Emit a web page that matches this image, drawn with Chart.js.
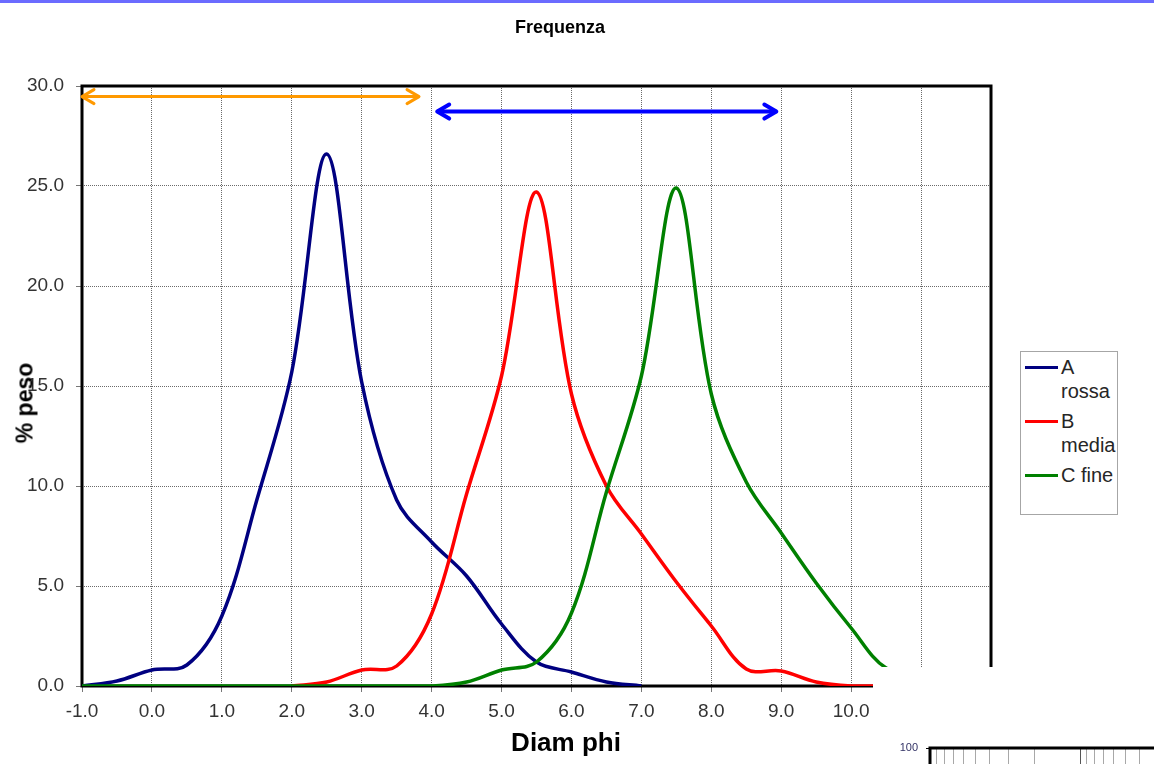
<!DOCTYPE html>
<html>
<head>
<meta charset="utf-8">
<script src="https://cdn.jsdelivr.net/npm/chart.js@4.4.0/dist/chart.umd.min.js"></script>
<style>
html,body{margin:0;padding:0;background:#fff;}
#wrap{position:relative;width:1154px;height:764px;overflow:hidden;font-family:"Liberation Sans",Arial,sans-serif;color:#000;}
#topbar{position:absolute;left:0;top:0;width:1154px;height:3px;background:#6b6bff;}
canvas{position:absolute;left:0;top:0;}
#title{position:absolute;left:560px;top:18px;transform:translateX(-50%);font-weight:bold;font-size:18px;line-height:18px;white-space:nowrap;}
#ytitle{position:absolute;left:25px;top:403px;transform:translate(-50%,-50%) rotate(-90deg);font-weight:bold;font-size:23px;line-height:23px;white-space:nowrap;}
#xtitle{position:absolute;left:566px;top:729px;transform:translateX(-50%);font-weight:bold;font-size:26px;line-height:26px;white-space:nowrap;}
#mask{position:absolute;left:873px;top:667px;width:281px;height:97px;background:#fff;}
#frag{position:absolute;left:880px;top:730px;width:680px;height:400px;}
#legend{position:absolute;left:1020px;top:351px;width:98px;height:164px;box-sizing:border-box;border:1px solid #a6a6a6;background:#fff;padding-top:4px;}
.entry{position:relative;margin-bottom:7px;}
.mark{position:absolute;left:4px;top:10px;width:33px;height:3px;}
.txt{margin-left:40px;width:56px;font-size:20px;line-height:23.5px;color:#262626;}
</style>
</head>
<body>
<div id="wrap">
  <div id="topbar"></div>
  <canvas id="main" width="1154" height="764"></canvas>
  <div id="mask"></div>
  <div id="frag"><canvas id="frag2" width="680" height="400"></canvas></div>
  <div id="title">Frequenza</div>
  <div id="ytitle">% peso</div>
  <div id="xtitle">Diam phi</div>
  <div id="legend"></div>
</div>
<script>
// ---- data ----
const phi = [-1,-0.5,0,0.5,1,1.5,2,2.5,3,3.5,4,4.5,5,5.5,6,6.5,7,7.5,8,8.5,9,9.5,10,10.5,11,11.5,12];
const serieA = [0,0.25,0.8,1.05,3.5,9.3,15.7,26.6,15.2,9.3,7.2,5.5,3.1,1.2,0.7,0.2,0,null,null,null,null,null,null,null,null,null,null];
const serieB = [null,null,null,null,null,null,0,0.2,0.8,1.0,3.6,9.6,15.5,24.7,14.6,10.0,7.6,5.2,3.0,0.85,0.75,0.2,0,0,0,0,0];
const serieC = [0,0,0,0,0,0,0,0,0,0,0,0.2,0.8,1.2,3.65,9.7,15.5,24.9,14.6,10.2,7.65,5.15,2.9,0.9,0.75,0.2,0];
const seriesNames = ['A rossa','B media','C fine'];
const seriesColors = ['#000080','#ff0000','#008000'];
const arrowOrangeX = [-1, 3.82];
const arrowOrangeY = [29.47, 29.47];
const arrowBlueX = [4.08, 8.93];
const arrowBlueY = [28.72, 28.72];
const xMin = -1, xMax = 12, xStep = 1;
const yMin = 0, yMax = 30, yStep = 5;
// fragment of the chart below (partially visible)
const fragYMax = 100;
const fragXGrid = [10,9,8,7,6,5,4,3,2,1,0.9,0.8,0.7,0.6,0.5,0.4,0.3,0.2,0.1,0.09,0.08,0.07,0.06,0.05,0.04,0.03,0.02,0.01,0.009,0.008,0.007,0.006,0.005,0.004,0.003,0.002,0.001];

// ---- legend ----
const leg = document.getElementById('legend');
seriesNames.forEach((n,i)=>{
  const e = document.createElement('div'); e.className='entry';
  const m = document.createElement('div'); m.className='mark'; m.style.background=seriesColors[i];
  const t = document.createElement('div'); t.className='txt'; t.textContent=n;
  e.appendChild(m); e.appendChild(t); leg.appendChild(e);
});

const FONT = '"Liberation Sans", Arial, sans-serif';

const framePlugin = {
  id:'frame',
  beforeDatasetsDraw(chart){
    const {ctx, chartArea:a} = chart;
    ctx.save();
    ctx.strokeStyle='#000'; ctx.lineWidth=3;
    ctx.strokeRect(a.left, a.top, a.right-a.left, a.bottom-a.top);
    ctx.restore();
  }
};
const arrowPlugin = {
  id:'arrows',
  afterDatasetsDraw(chart){
    const ctx = chart.ctx;
    chart.data.datasets.forEach((ds,i)=>{
      if(!ds.arrowHeads) return;
      const pts = chart.getDatasetMeta(i).data;
      const p0 = pts[0], p1 = pts[pts.length-1];
      ctx.save();
      ctx.strokeStyle = ds.borderColor; ctx.lineWidth = ds.borderWidth;
      ctx.lineJoin='round'; ctx.lineCap='round';
      const L=12, H=7;
      [[p1.x,p1.y,-1],[p0.x,p0.y,1]].forEach(([x,y,d])=>{
        ctx.beginPath(); ctx.moveTo(x+d*L,y-H); ctx.lineTo(x,y); ctx.lineTo(x+d*L,y+H); ctx.stroke();
      });
      ctx.restore();
    });
  }
};

function series(arr){ return phi.map((x,i)=>({x:x, y:arr[i]})); }
function pairs(xs, ys){ return xs.map((x,i)=>({x:x, y:ys[i]})); }

const curveBase = {pointRadius:0, borderWidth:3.5, tension:0.35, fill:false, spanGaps:false};
new Chart(document.getElementById('main'), {
  type:'line',
  data:{datasets:[
    Object.assign({label:seriesNames[0], data:series(serieA), borderColor:seriesColors[0], order:3}, curveBase),
    Object.assign({label:seriesNames[1], data:series(serieB), borderColor:seriesColors[1], order:2}, curveBase),
    Object.assign({label:seriesNames[2], data:series(serieC), borderColor:seriesColors[2], order:1}, curveBase),
    {label:'arrow1', data:pairs(arrowOrangeX, arrowOrangeY), borderColor:'#ff9900', borderWidth:3, pointRadius:0, tension:0, arrowHeads:true, order:0, clip:false},
    {label:'arrow2', data:pairs(arrowBlueX, arrowBlueY), borderColor:'#0000ff', borderWidth:4, pointRadius:0, tension:0, arrowHeads:true, order:0, clip:false}
  ]},
  options:{
    responsive:false, animation:false, devicePixelRatio:1,
    layout:{padding:{left:0, top:86, right:163, bottom:0}},
    plugins:{legend:{display:false}, tooltip:{enabled:false}, title:{display:false}},
    scales:{
      x:{type:'linear', min:xMin, max:xMax,
        afterFit(s){ s.height = 78; },
        ticks:{stepSize:xStep, padding:8, color:'#333', font:{family:FONT, size:19}, maxRotation:0, autoSkip:false,
          callback:v=>Number(v).toFixed(1)},
        grid:{color:'#6a6a6a', lineWidth:1, tickLength:6, tickColor:'#777', tickBorderDash:[]},
        border:{display:false, dash:[1,1]}
      },
      y:{min:yMin, max:yMax,
        afterFit(s){ s.width = 82; },
        ticks:{stepSize:yStep, padding:12, color:'#333', font:{family:FONT, size:19},
          callback:v=>Number(v).toFixed(1)},
        grid:{color:'#6a6a6a', lineWidth:1, tickLength:6, tickColor:'#777', tickBorderDash:[]},
        border:{display:false, dash:[1,1]}
      }
    }
  },
  plugins:[framePlugin, arrowPlugin]
});

// fragment of the next chart at the bottom right
new Chart(document.getElementById('frag2'), {
  type:'line',
  data:{datasets:[]},
  options:{
    responsive:false, animation:false, devicePixelRatio:1,
    layout:{padding:{left:0, top:18, right:30, bottom:0}},
    plugins:{legend:{display:false}, tooltip:{enabled:false}},
    scales:{
      x:{type:'logarithmic', reverse:true, min:0.001, max:10,
        afterBuildTicks(s){ s.ticks = fragXGrid.map(v=>({value:v})); },
        afterFit(s){ s.height = 20; },
        ticks:{display:false},
        grid:{drawTicks:false, color:ctx=>{const v=ctx.tick&&ctx.tick.value; return (v&&Math.abs(Math.log10(v)-Math.round(Math.log10(v)))<1e-9)?'#555':'#a8a8a8';}},
        border:{display:false}
      },
      y:{min:0, max:fragYMax,
        afterFit(s){ s.width = 50; },
        ticks:{stepSize:10, padding:8, color:'#333366', font:{family:FONT, size:11}},
        grid:{color:'#a8a8a8', tickLength:4, tickColor:'#000'},
        border:{display:false}
      }
    }
  },
  plugins:[framePlugin]
});
</script>
</body>
</html>
